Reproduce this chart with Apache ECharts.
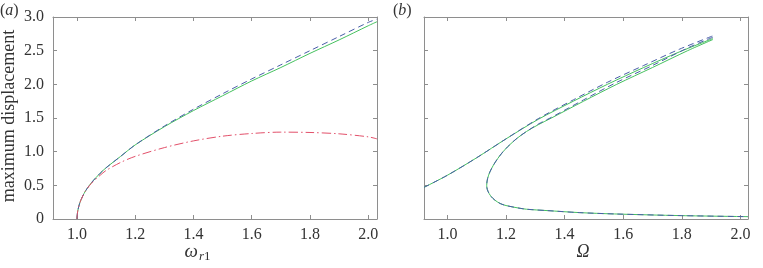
<!DOCTYPE html>
<html>
<head>
<meta charset="utf-8">
<script src="https://cdn.jsdelivr.net/npm/echarts@6/dist/echarts.min.js"></script>
<style>
  html, body { margin: 0; padding: 0; background: #fff; }
  #chart { width: 763px; height: 268px; }
</style>
</head>
<body>
<div id="chart"></div>
<script>
// panel (a) - max displacement vs omega_r1
const wr1 = [1.0, 1.003, 1.01, 1.02, 1.03, 1.05, 1.08, 1.1, 1.15, 1.2, 1.3, 1.4, 1.5, 1.6, 1.7, 1.8, 1.9, 2.0, 2.03];
const aSolid = [0, 0.12, 0.24, 0.34, 0.42, 0.54, 0.68, 0.76, 0.93, 1.10, 1.37, 1.61, 1.83, 2.05, 2.25, 2.46, 2.66, 2.87, 2.93];
const aDashed = [0, 0.12, 0.24, 0.34, 0.42, 0.54, 0.68, 0.76, 0.93, 1.10, 1.38, 1.63, 1.86, 2.08, 2.29, 2.50, 2.71, 2.92, 2.97];
const wr1Red = [1.0, 1.003, 1.01, 1.02, 1.03, 1.05, 1.08, 1.1, 1.15, 1.2, 1.3, 1.4, 1.5, 1.6, 1.7, 1.8, 1.9, 2.0, 2.03];
const aRed = [0, 0.12, 0.24, 0.34, 0.42, 0.53, 0.65, 0.72, 0.84, 0.93, 1.06, 1.16, 1.23, 1.27, 1.29, 1.285, 1.265, 1.22, 1.19];

// panel (b) - max displacement vs Omega (upper branch + inner/lower branch)
const omUpper = [0.92, 1.0, 1.1, 1.2, 1.31, 1.43, 1.546, 1.67, 1.791, 1.906];
const upSolid = [0.47, 0.65, 0.91, 1.19, 1.48, 1.75, 2.0, 2.25, 2.48, 2.68];
const upDashed = [0.47, 0.65, 0.91, 1.19, 1.49, 1.77, 2.03, 2.28, 2.52, 2.72];
const omInner = [1.906, 1.82, 1.70, 1.578, 1.465, 1.355, 1.31, 1.27, 1.238, 1.212, 1.19, 1.172, 1.157, 1.145, 1.137, 1.134, 1.136, 1.142, 1.15, 1.162, 1.18, 1.2, 1.24, 1.27, 1.34, 1.45, 1.57, 1.8, 2.026];
const inSolid = [2.665, 2.5, 2.25, 2.0, 1.75, 1.5, 1.4, 1.3, 1.2, 1.1, 1.0, 0.9, 0.8, 0.7, 0.6, 0.50, 0.44, 0.38, 0.33, 0.28, 0.23, 0.2, 0.165, 0.145, 0.125, 0.095, 0.075, 0.05, 0.035];
const inDashed = [2.70, 2.54, 2.28, 2.03, 1.77, 1.51, 1.41, 1.3, 1.2, 1.1, 1.0, 0.9, 0.8, 0.7, 0.6, 0.50, 0.44, 0.38, 0.33, 0.28, 0.23, 0.2, 0.165, 0.145, 0.125, 0.095, 0.075, 0.05, 0.035];

const xTicks = [1.0, 1.2, 1.4, 1.6, 1.8, 2.0];

const FONT = '"Liberation Serif", "DejaVu Serif", serif';
const AXIS_GREY = '#8e8e8e';
const TEXT = '#333';
const GREEN = '#45c15e';
const BLUE = '#4a5ea8';
const RED = '#e2506a';

const pairs = (xs, ys) => xs.map((x, i) => [x, ys[i]]);

function xAx(grid, min, max, pos, labels) {
  return {
    type: 'value', gridIndex: grid, min: min, max: max, position: pos,
    axisLine: { show: true, onZero: false, lineStyle: { color: AXIS_GREY, width: 1 } },
    axisTick: { show: true, inside: true, length: 4, customValues: xTicks, lineStyle: { color: AXIS_GREY } },
    axisLabel: {
      show: labels, customValues: xTicks, margin: 8,
      color: TEXT, fontFamily: FONT, fontSize: 16,
      formatter: v => v.toFixed(1)
    },
    splitLine: { show: false }
  };
}

function yAx(grid, pos, labels) {
  return {
    type: 'value', gridIndex: grid, min: 0, max: 3, interval: 0.5, position: pos,
    axisLine: { show: true, onZero: false, lineStyle: { color: AXIS_GREY, width: 1 } },
    axisTick: { show: true, inside: true, length: 4, lineStyle: { color: AXIS_GREY } },
    axisLabel: {
      show: labels, margin: 9,
      color: TEXT, fontFamily: FONT, fontSize: 16,
      formatter: v => (v === 0 ? '0' : v.toFixed(1))
    },
    splitLine: { show: false }
  };
}

function line(xi, yi, data, color, type, z) {
  return {
    type: 'line', xAxisIndex: xi, yAxisIndex: yi, data: data,
    showSymbol: false, smooth: 0.3, silent: true, z: z,
    lineStyle: { color: color, width: 1, type: type },
    clip: true
  };
}

const chart = echarts.init(document.getElementById('chart'), null, { renderer: 'canvas' });

chart.setOption({
  backgroundColor: '#fff',
  animation: false,
  textStyle: { fontFamily: FONT },
  grid: [
    { left: 53, top: 17, width: 324, height: 202 },
    { left: 424, top: 17, width: 324, height: 202 }
  ],
  xAxis: [
    xAx(0, 0.918, 2.03, 'bottom', true),
    xAx(0, 0.918, 2.03, 'top', false),
    xAx(1, 0.92, 2.026, 'bottom', true),
    xAx(1, 0.92, 2.026, 'top', false)
  ],
  yAxis: [
    yAx(0, 'left', true),
    yAx(0, 'right', false),
    yAx(1, 'left', false),
    yAx(1, 'right', false)
  ],
  series: [
    line(0, 0, pairs(wr1, aSolid), GREEN, 'solid', 2),
    line(0, 0, pairs(wr1, aDashed), BLUE, [6, 4], 3),
    line(0, 0, pairs(wr1Red, aRed), RED, [9, 3, 1.5, 3], 4),
    line(2, 2, pairs(omUpper, upSolid), GREEN, 'solid', 2),
    line(2, 2, pairs(omUpper, upDashed), BLUE, [6, 4], 3),
    line(2, 2, pairs(omInner, inSolid), GREEN, 'solid', 2),
    line(2, 2, pairs(omInner, inDashed), BLUE, [6, 4], 3)
  ],
  graphic: [
    {
      type: 'text', x: 9, y: 116, rotation: Math.PI / 2,
      style: { text: 'maximum displacement', font: '18px "Liberation Serif"', fill: TEXT, align: 'center', verticalAlign: 'middle' }
    },
    {
      type: 'text', x: 198, y: 252,
      style: { text: 'ω', font: 'italic 19px "Liberation Serif"', fill: TEXT, align: 'right', verticalAlign: 'middle' }
    },
    {
      type: 'text', x: 199, y: 257,
      style: { text: '{r|r}{o|1}', fill: TEXT, align: 'left', verticalAlign: 'middle',
        rich: { r: { fontFamily: FONT, fontStyle: 'italic', fontSize: 13, fill: TEXT }, o: { fontFamily: FONT, fontSize: 13, fill: TEXT } } }
    },
    {
      type: 'text', x: 583, y: 252,
      style: { text: 'Ω', font: 'italic 18px "Liberation Serif"', fill: TEXT, align: 'center', verticalAlign: 'middle' }
    },
    {
      type: 'text', x: 0, y: 11,
      style: { text: '({a|a})', fontFamily: FONT, fontSize: 16, fill: TEXT, align: 'left', verticalAlign: 'middle',
        rich: { a: { fontFamily: FONT, fontStyle: 'italic', fontSize: 16, fill: TEXT } } }
    },
    {
      type: 'text', x: 393, y: 11,
      style: { text: '({b|b})', fontFamily: FONT, fontSize: 16, fill: TEXT, align: 'left', verticalAlign: 'middle',
        rich: { b: { fontFamily: FONT, fontStyle: 'italic', fontSize: 16, fill: TEXT } } }
    }
  ]
});
</script>
</body>
</html>
